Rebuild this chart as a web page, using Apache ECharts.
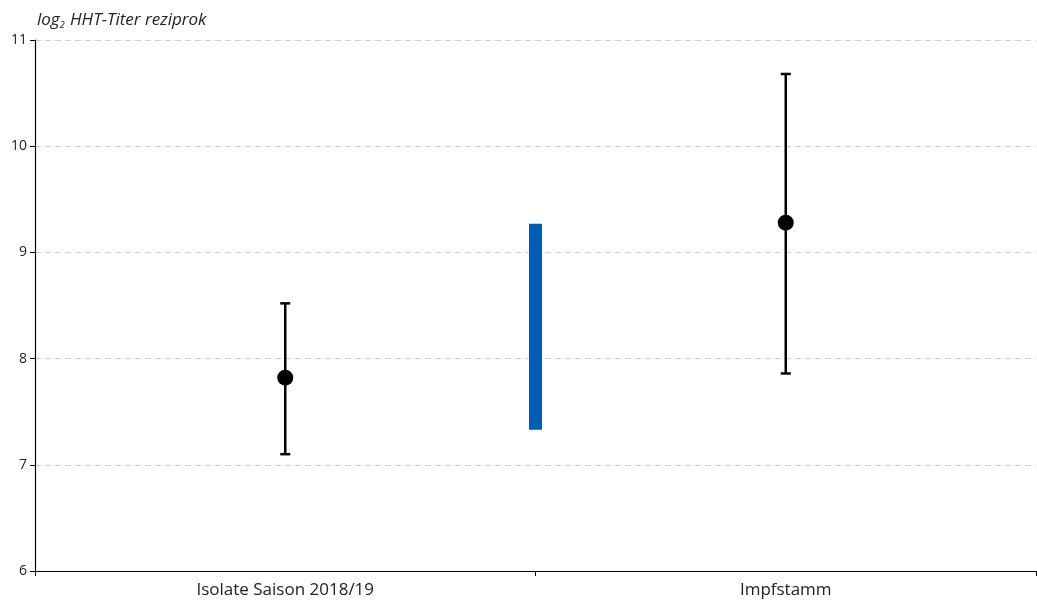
<!DOCTYPE html>
<html>
<head>
<meta charset="utf-8">
<script src="https://cdn.jsdelivr.net/npm/echarts@6/dist/echarts.min.js"></script>
<style>
  html, body { margin: 0; padding: 0; background: #fff; }
  #chart { width: 1037px; height: 606px; }
</style>
</head>
<body>
<div id="chart"></div>
<script>
// Groups on the x axis
const categories = ['Isolate Saison 2018/19', 'Impfstamm'];
// Mean titer (log2) per group, with lower and upper bounds of the error bar
const means = [7.82, 9.28];
const lowers = [7.10, 7.86];
const uppers = [8.52, 10.68];
// Range band drawn between the two groups
const bandLow = 7.33;
const bandHigh = 9.27;
// Y axis range and step
const yMin = 6, yMax = 11, yStep = 1;

const fontFamily = '"Open Sans", Lato, sans-serif';
const chart = echarts.init(document.getElementById('chart'));

// Positions on a hidden value axis: group i centered at i + 0.5, band at the boundary 1
const pointData = means.map((m, i) => [i + 0.5, m]);
const errData = means.map((m, i) => [i + 0.5, lowers[i], uppers[i]]);

chart.setOption({
  animation: false,
  backgroundColor: '#fff',
  title: {
    text: '{a|log}{s|2}{a| HHT-Titer reziprok}',
    left: 32,
    top: 6,
    textStyle: {
      fontWeight: 'normal',
      rich: {
        a: { fontFamily, fontStyle: 'italic', fontWeight: 'normal', fontSize: 17, color: '#222' },
        s: { fontFamily, fontStyle: 'italic', fontWeight: 'normal', fontSize: 9, color: '#222', verticalAlign: 'bottom', padding: [10, 1, 0, 0] }
      }
    }
  },
  grid: { left: 35, right: 1, top: 40, bottom: 35, containLabel: false },
  xAxis: [
    {
      type: 'category',
      data: categories,
      boundaryGap: true,
      axisLine: { lineStyle: { color: '#000', width: 1.2 } },
      axisTick: { show: true, alignWithLabel: false, length: 5, lineStyle: { color: '#000' } },
      axisLabel: { fontFamily, fontSize: 17, color: '#222', margin: 11 },
      splitLine: { show: false }
    },
    {
      type: 'value',
      min: 0,
      max: 2,
      show: false
    }
  ],
  yAxis: {
    type: 'value',
    min: yMin,
    max: yMax,
    interval: yStep,
    axisLine: { show: true, lineStyle: { color: '#000', width: 1.2 } },
    axisTick: { show: true, length: 5, lineStyle: { color: '#000' } },
    axisLabel: { fontFamily, fontSize: 14, color: '#222', margin: 8 },
    splitLine: { show: true, lineStyle: { color: '#d0d0d0', type: [6, 4], width: 1 } }
  },
  series: [
    {
      // Range band between groups
      type: 'custom',
      xAxisIndex: 1,
      data: [[1, bandLow, bandHigh]],
      renderItem: function (params, api) {
        const p0 = api.coord([api.value(0), api.value(1)]);
        const p1 = api.coord([api.value(0), api.value(2)]);
        const w = 13;
        return {
          type: 'rect',
          shape: { x: p0[0] - w / 2, y: p1[1], width: w, height: p0[1] - p1[1] },
          style: { fill: '#005EB8' }
        };
      },
      z: 3
    },
    {
      // Error bars with caps
      type: 'custom',
      xAxisIndex: 1,
      data: errData,
      renderItem: function (params, api) {
        const lo = api.coord([api.value(0), api.value(1)]);
        const hi = api.coord([api.value(0), api.value(2)]);
        const cw = 5;
        const style = { stroke: '#000', lineWidth: 2.5 };
        return {
          type: 'group',
          children: [
            { type: 'line', shape: { x1: lo[0], y1: lo[1], x2: hi[0], y2: hi[1] }, style },
            { type: 'line', shape: { x1: hi[0] - cw, y1: hi[1], x2: hi[0] + cw, y2: hi[1] }, style },
            { type: 'line', shape: { x1: lo[0] - cw, y1: lo[1], x2: lo[0] + cw, y2: lo[1] }, style }
          ]
        };
      },
      z: 4
    },
    {
      // Mean values
      type: 'scatter',
      xAxisIndex: 1,
      data: pointData,
      symbol: 'circle',
      symbolSize: 16,
      itemStyle: { color: '#000', opacity: 1 },
      z: 5
    }
  ]
});
</script>
</body>
</html>
